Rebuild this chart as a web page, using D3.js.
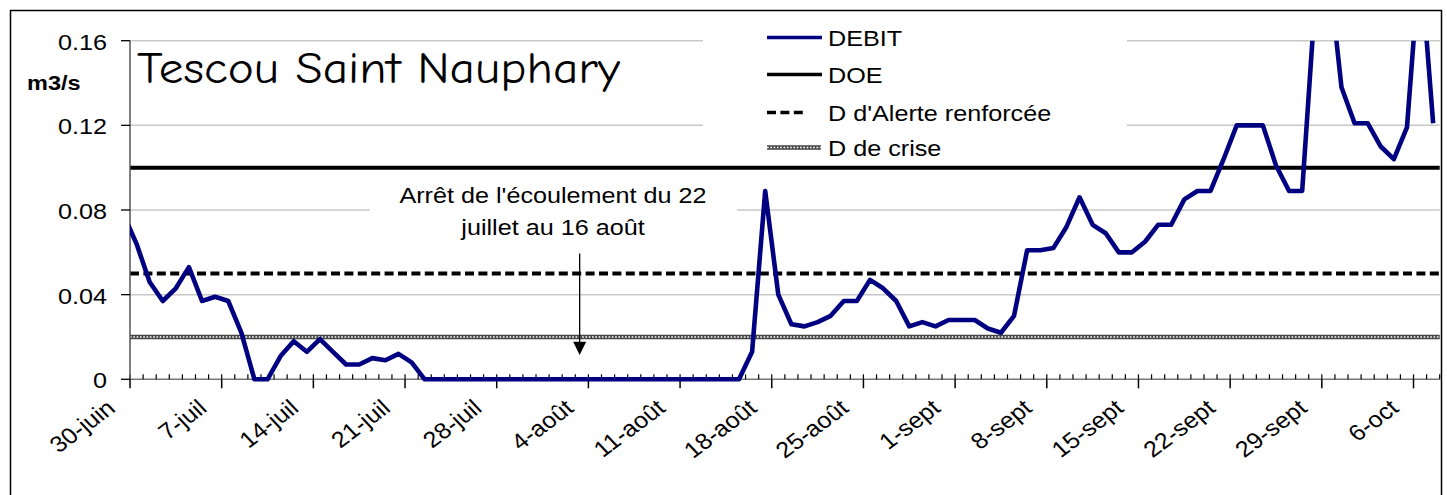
<!DOCTYPE html>
<html>
<head>
<meta charset="utf-8">
<script src="https://cdnjs.cloudflare.com/ajax/libs/d3/7.8.5/d3.min.js"></script>
<style>
	body { margin: 0; background: #fff; }
	svg { display: block; }
	text { font-family: "Liberation Sans", Arial, sans-serif; fill: #000; }
</style>
</head>
<body>
<svg id="chart" width="1447" height="495"></svg>
<script>
// débit journalier (m3/s), du 29 juin au 7 octobre
var debit = [
	0.078, 0.064, 0.046, 0.037, 0.043, 0.053, 0.037, 0.039, 0.037, 0.022,
	0, 0, 0.011, 0.018, 0.013, 0.019, 0.013, 0.007, 0.007, 0.010,
	0.009, 0.012, 0.008, 0, 0, 0, 0, 0, 0, 0,
	0, 0, 0, 0, 0, 0, 0, 0, 0, 0,
	0, 0, 0, 0, 0, 0, 0, 0, 0.013, 0.089,
	0.040, 0.026, 0.025, 0.027, 0.030, 0.037, 0.037, 0.047, 0.043, 0.037,
	0.025, 0.027, 0.025, 0.028, 0.028, 0.028, 0.024, 0.022, 0.030, 0.061,
	0.061, 0.062, 0.072, 0.086, 0.073, 0.069, 0.060, 0.060, 0.065, 0.073,
	0.073, 0.085, 0.089, 0.089, 0.104, 0.120, 0.120, 0.120, 0.101, 0.089,
	0.089, 0.180, 0.195, 0.138, 0.121, 0.121, 0.110, 0.104, 0.119, 0.200,
	0.121
];
var premierJour = new Date(2003, 5, 29);
var debutAxe = new Date(2003, 5, 30),
	finAxe = new Date(2003, 9, 8);

var seuilNoms = ["DOE", "D d'Alerte renforcée", "D de crise"];
var seuilValeurs = [0.10, 0.05, 0.02];

var yTicks = [0, 0.04, 0.08, 0.12, 0.16];
var xLabels = ["30-juin", "7-juil", "14-juil", "21-juil", "28-juil", "4-août",
	"11-août", "18-août", "25-août", "1-sept", "8-sept", "15-sept", "22-sept",
	"29-sept", "6-oct"];

var titre = "Tescou Saint Nauphary",
	note = ["Arrêt de l'écoulement du 22", "juillet au 16 août"],
	unite = "m3/s";

(function() {
	var pL = 130, pR = 1439.7, pT = 40.7, pB = 379.3,
		sx = 1.12,	// the original picture is stretched sideways
		fs = 22.5;

	var svg = d3.select('#chart');

	var x = d3.scaleTime().domain([debutAxe, finAxe]).range([pL, pR]),
		y = d3.scaleLinear().domain([0, 0.16]).range([pB, pT]);

	var jours = debit.map(function(v, i) {
		return {date: d3.timeHour.offset(d3.timeDay.offset(premierJour, i), 12), v: v};
	});

	function stretch(sel, tx, ty, rot) {
		return sel.attr('transform', 'translate(' + tx + ',' + ty + ') scale(' + sx + ',1)' +
			(rot ? ' rotate(' + rot + ')' : ''));
	}

	// outer frame
	svg.append('rect')
		.attr('x', 10.5).attr('y', 10.5)
		.attr('width', 1431).attr('height', 520)
		.attr('fill', 'none').attr('stroke', '#000').attr('stroke-width', 1.5);

	// gridlines
	svg.append('g').selectAll('line')
		.data(yTicks.slice(1))
		.enter().append('line')
		.attr('x1', pL).attr('x2', pR)
		.attr('y1', function(d) { return y(d); })
		.attr('y2', function(d) { return y(d); })
		.attr('stroke', '#c8c8c8').attr('stroke-width', 1.5);

	// white boxes behind legend and note
	svg.append('rect').attr('x', 703).attr('y', 14).attr('width', 424).attr('height', 146)
		.attr('fill', '#fff');
	svg.append('rect').attr('x', 370).attr('y', 178).attr('width', 367).attr('height', 64)
		.attr('fill', '#fff');

	// threshold lines
	function seuilStyle(sel, i) {
		if (i === 0) {
			sel.attr('stroke', '#000').attr('stroke-width', 4);
		} else if (i === 1) {
			sel.attr('stroke', '#000').attr('stroke-width', 4).attr('stroke-dasharray', '9,4.4');
		}
	}
	function crise(g, x1, x2, yy) {
		g.append('line').attr('x1', x1).attr('x2', x2).attr('y1', yy).attr('y2', yy)
			.attr('stroke', '#444').attr('stroke-width', 4.4);
		g.append('line').attr('x1', x1).attr('x2', x2).attr('y1', yy).attr('y2', yy)
			.attr('stroke', '#fff').attr('stroke-width', 1.6).attr('stroke-dasharray', '1.7,1.6');
	}
	var seuils = svg.append('g');
	seuilValeurs.forEach(function(v, i) {
		if (i === 2) {
			crise(seuils, pL, pR, y(v));
		} else {
			seuils.append('line')
				.attr('x1', pL).attr('x2', pR)
				.attr('y1', y(v)).attr('y2', y(v))
				.call(seuilStyle, i);
		}
	});

	// x axis
	var axisX = svg.append('g');
	axisX.append('line').attr('x1', pL).attr('x2', pR)
		.attr('y1', pB).attr('y2', pB)
		.attr('stroke', '#777').attr('stroke-width', 1.5);
	axisX.selectAll('line.minor')
		.data(d3.timeDay.range(debutAxe, d3.timeDay.offset(finAxe, 1)))
		.enter().append('line').attr('class', 'minor')
		.attr('x1', function(d) { return x(d); }).attr('x2', function(d) { return x(d); })
		.attr('y1', pB - 5).attr('y2', pB)
		.attr('stroke', '#000').attr('stroke-width', 1.2);
	var majeurs = xLabels.map(function(l, k) { return d3.timeDay.offset(debutAxe, 7 * k); });
	axisX.selectAll('line.major')
		.data(majeurs)
		.enter().append('line').attr('class', 'major')
		.attr('x1', function(d) { return x(d); }).attr('x2', function(d) { return x(d); })
		.attr('y1', pB).attr('y2', pB + 9)
		.attr('stroke', '#000').attr('stroke-width', 1.5);
	axisX.selectAll('text')
		.data(majeurs)
		.enter().append('text')
		.attr('text-anchor', 'end')
		.attr('dy', '0.35em')
		.style('font-size', fs + 'px')
		.each(function(d) {
			stretch(d3.select(this), x(d) - 19, pB + 25, -40);
		})
		.text(function(d, k) { return xLabels[k]; });

	// y axis
	var axisY = svg.append('g');
	axisY.append('line').attr('x1', pL).attr('x2', pL)
		.attr('y1', pT).attr('y2', pB)
		.attr('stroke', '#555').attr('stroke-width', 1.5);
	axisY.selectAll('line.tick')
		.data(yTicks)
		.enter().append('line').attr('class', 'tick')
		.attr('x1', pL - 9).attr('x2', pL)
		.attr('y1', function(d) { return y(d); }).attr('y2', function(d) { return y(d); })
		.attr('stroke', '#000').attr('stroke-width', 1.3);
	axisY.selectAll('text')
		.data(yTicks)
		.enter().append('text')
		.attr('text-anchor', 'end')
		.attr('dy', '0.36em')
		.style('font-size', fs + 'px')
		.each(function(d) { stretch(d3.select(this), 107, y(d) + 1); })
		.text(function(d) { return d === 0 ? '0' : d3.format('.2f')(d); });
	stretch(svg.append('text'), 27, 90)
		.style('font-size', '21px').style('font-weight', 'bold')
		.text(unite);

	// debit line
	svg.append('clipPath').attr('id', 'plot')
		.append('rect').attr('x', pL).attr('y', pT)
		.attr('width', pR - pL).attr('height', pB - pT + 6);
	svg.append('path')
		.datum(jours)
		.attr('clip-path', 'url(#plot)')
		.attr('fill', 'none')
		.attr('stroke', '#000080')
		.attr('stroke-width', 4.6)
		.attr('stroke-linejoin', 'round')
		.attr('d', d3.line()
			.x(function(d) { return x(d.date); })
			.y(function(d) { return y(d.v); }));

	// title
	svg.append('text')
		.attr('x', 137).attr('y', 83)
		.attr('textLength', 483).attr('lengthAdjust', 'spacingAndGlyphs')
		.style('font-family', '"Comic Sans MS", "Comic Neue", "DejaVu Sans", sans-serif')
		.style('font-size', '45px')
		.text(titre);

	// legend
	var legend = svg.append('g');
	var legendY = [37.5, 74.5, 112.5, 147.5];
	var legendNoms = ["DEBIT"].concat(seuilNoms);
	legendNoms.forEach(function(nom, i) {
		var ly = legendY[i];
		if (i === 0) {
			legend.append('line').attr('x1', 767).attr('x2', 822).attr('y1', ly).attr('y2', ly)
				.attr('stroke', '#000080').attr('stroke-width', 3.5);
		} else if (i === 3) {
			crise(legend, 767, 821, ly);
		} else {
			legend.append('line').attr('x1', 767).attr('x2', i === 2 ? 806 : 822)
				.attr('y1', ly).attr('y2', ly)
				.call(seuilStyle, i - 1)
				.attr('stroke-width', 3.5);
		}
		stretch(legend.append('text'), 828, ly + 8.5)
			.style('font-size', fs + 'px')
			.text(nom);
	});

	// note + arrow
	var noteG = svg.append('g');
	note.forEach(function(l, i) {
		stretch(noteG.append('text'), 553, 203 + i * 31.5)
			.attr('text-anchor', 'middle')
			.style('font-size', fs + 'px')
			.text(l);
	});
	var ax = x(new Date(2003, 7, 3, 8));
	noteG.append('line').attr('x1', ax).attr('x2', ax)
		.attr('y1', y(0.0595)).attr('y2', y(0.017))
		.attr('stroke', '#000').attr('stroke-width', 1.3);
	noteG.append('path')
		.attr('d', 'M' + (ax - 6.5) + ',' + y(0.0178) + 'L' + (ax + 6.5) + ',' + y(0.0178) +
			'L' + ax + ',' + y(0.0115) + 'Z')
		.attr('fill', '#000');
})();
</script>
</body>
</html>
